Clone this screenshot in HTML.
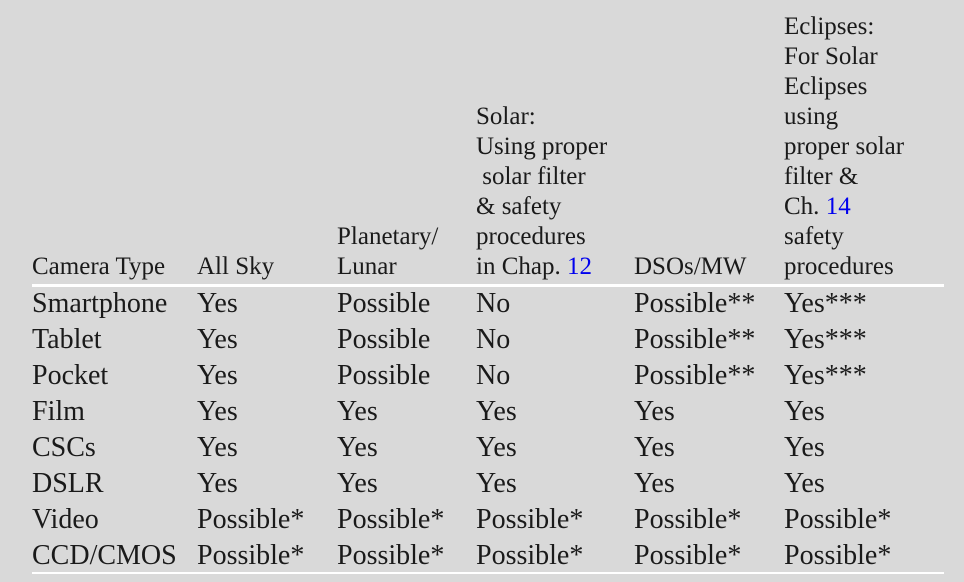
<!DOCTYPE html>
<html><head><meta charset="utf-8"><style>
html,body{margin:0;padding:0}
body{width:964px;height:582px;background:#d9d9d9;position:relative;overflow:hidden;font-family:"Liberation Serif",serif;color:#1a1a1a}
.h{position:absolute;bottom:300px;font-size:25px;line-height:30px;white-space:pre}
.c{position:absolute;font-size:28px;line-height:36px;white-space:nowrap}
.rule{position:absolute;left:32px;width:912px;background:#fff}
.lnk{color:#0000ee;text-decoration:none}
</style></head><body>
<div class="h" style="left:32px">Camera Type</div>
<div class="h" style="left:197px">All Sky</div>
<div class="h" style="left:337px">Planetary/
Lunar</div>
<div class="h" style="left:476px">Solar:
Using proper
 solar filter
&amp; safety
procedures
in Chap. <span class="lnk">12</span></div>
<div class="h" style="left:634px">DSOs/MW</div>
<div class="h" style="left:784px">Eclipses:
For Solar
Eclipses
using
proper solar
filter &amp;
Ch. <span class="lnk">14</span>
safety
procedures</div>
<div class="rule" style="top:284px;height:3px"></div>
<div class="rule" style="top:572px;height:2px"></div>
<div id="rows"></div>
<script>
const cameras=["Smartphone","Tablet","Pocket","Film","CSCs","DSLR","Video","CCD/CMOS"];
const allSky=["Yes","Yes","Yes","Yes","Yes","Yes","Possible*","Possible*"];
const planetary=["Possible","Possible","Possible","Yes","Yes","Yes","Possible*","Possible*"];
const solar=["No","No","No","Yes","Yes","Yes","Possible*","Possible*"];
const dsos=["Possible**","Possible**","Possible**","Yes","Yes","Yes","Possible*","Possible*"];
const eclipses=["Yes***","Yes***","Yes***","Yes","Yes","Yes","Possible*","Possible*"];
const cols=[cameras,allSky,planetary,solar,dsos,eclipses];
const colX=[32,197,337,476,634,784];
const rows=document.getElementById('rows');
cameras.forEach((cam,i)=>{
  cols.forEach((col,j)=>{
    const d=document.createElement('div');
    d.className='c';
    d.style.left=colX[j]+'px';
    d.style.top=(286+i*36)+'px';
    d.textContent=col[i];
    
    
    rows.appendChild(d);
  });
});
</script>
</body></html>
